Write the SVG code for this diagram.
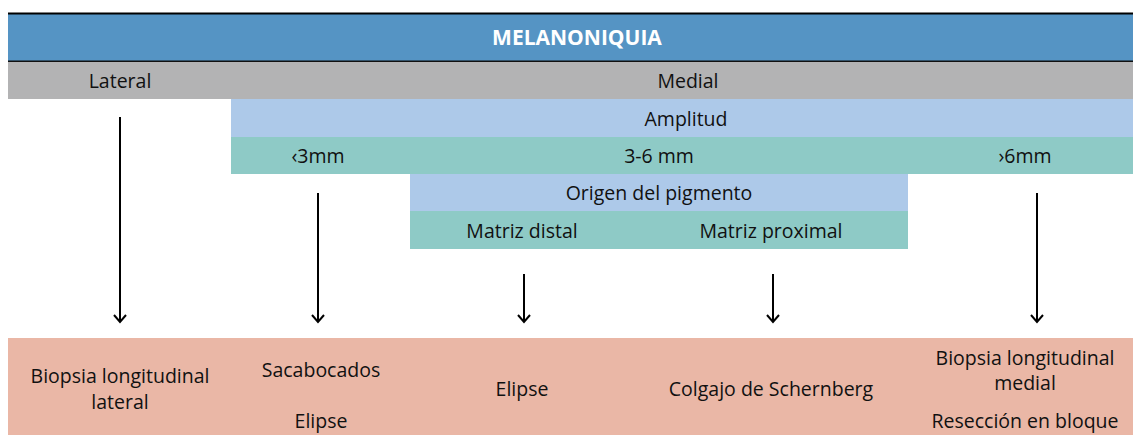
<svg xmlns="http://www.w3.org/2000/svg" width="1133" height="435" viewBox="0 0 1133 435">
<style>
text{font-family:"Open Sans","Liberation Sans",sans-serif;font-size:19.5px;fill:#111;text-anchor:middle}
.title{font-weight:bold;fill:#fff;font-size:21px}
.blue{fill:#5594c4}.gray{fill:#b3b3b4}.lb{fill:#adc9e9}.teal{fill:#8ecac6}.sal{fill:#eab7a6}
.conn{stroke:#000;stroke-width:2;fill:none}
</style>
<defs>
<marker id="ah" markerWidth="12" markerHeight="16" viewBox="0 0 12 16" refX="10" refY="8" orient="auto" markerUnits="userSpaceOnUse">
<path d="M3,2 L10,8 L3,14" fill="none" stroke="#000" stroke-width="2"/>
</marker>
</defs>
<rect x="0" y="0" width="1133" height="435" fill="#fff"/>
<g id="melanoniquia">
<rect class="blue" x="8" y="13" width="1125" height="49"/>
<line x1="8" y1="13.5" x2="1133" y2="13.5" stroke="#000" stroke-width="2"/>
<line x1="8" y1="61.5" x2="1133" y2="61.5" stroke="#111" stroke-width="2"/>
<text class="title" x="577" y="45">MELANONIQUIA</text>
</g>
<g id="lateral">
<rect class="gray" x="8" y="62" width="223" height="37"/>
<text x="120" y="88">Lateral</text>
</g>
<g id="medial">
<rect class="gray" x="231" y="62" width="902" height="37"/>
<text x="688" y="88">Medial</text>
</g>
<g id="amplitud">
<rect class="lb" x="231" y="99" width="902" height="38"/>
<text x="686" y="126">Amplitud</text>
</g>
<g id="menos3">
<rect class="teal" x="231" y="137" width="179" height="37"/>
<text x="318" y="163">‹3mm</text>
</g>
<g id="tres-seis">
<rect class="teal" x="410" y="137" width="498" height="37"/>
<text x="659" y="163">3-6 mm</text>
</g>
<g id="mas6">
<rect class="teal" x="908" y="137" width="225" height="37"/>
<text x="1025" y="163">›6mm</text>
</g>
<g id="origen">
<rect class="lb" x="410" y="174" width="498" height="37"/>
<text x="659" y="200">Origen del pigmento</text>
</g>
<g id="matriz-distal">
<rect class="teal" x="410" y="211" width="249" height="38"/>
<text x="522" y="238">Matriz distal</text>
</g>
<g id="matriz-proximal">
<rect class="teal" x="659" y="211" width="249" height="38"/>
<text x="771" y="238">Matriz proximal</text>
</g>
<g id="resultados">
<rect class="sal" x="8" y="338" width="1125" height="97"/>
</g>
<g id="r-lateral">
<text x="120" y="383">Biopsia longitudinal</text>
<text x="120" y="409">lateral</text>
</g>
<g id="r-menos3">
<text x="321" y="377">Sacabocados</text>
<text x="321" y="428">Elipse</text>
</g>
<g id="r-distal">
<text x="522" y="396">Elipse</text>
</g>
<g id="r-proximal">
<text x="771" y="396">Colgajo de Schernberg</text>
</g>
<g id="r-mas6">
<text x="1025" y="365">Biopsia longitudinal</text>
<text x="1025" y="390">medial</text>
<text x="1025" y="428">Resección en bloque</text>
</g>
<g id="connectors">
<line class="conn" x1="120" y1="117" x2="120" y2="322" marker-end="url(#ah)"/>
<line class="conn" x1="318" y1="193" x2="318" y2="322" marker-end="url(#ah)"/>
<line class="conn" x1="524" y1="274" x2="524" y2="322" marker-end="url(#ah)"/>
<line class="conn" x1="773" y1="274" x2="773" y2="322" marker-end="url(#ah)"/>
<line class="conn" x1="1037" y1="193" x2="1037" y2="322" marker-end="url(#ah)"/>
</g>
</svg>
